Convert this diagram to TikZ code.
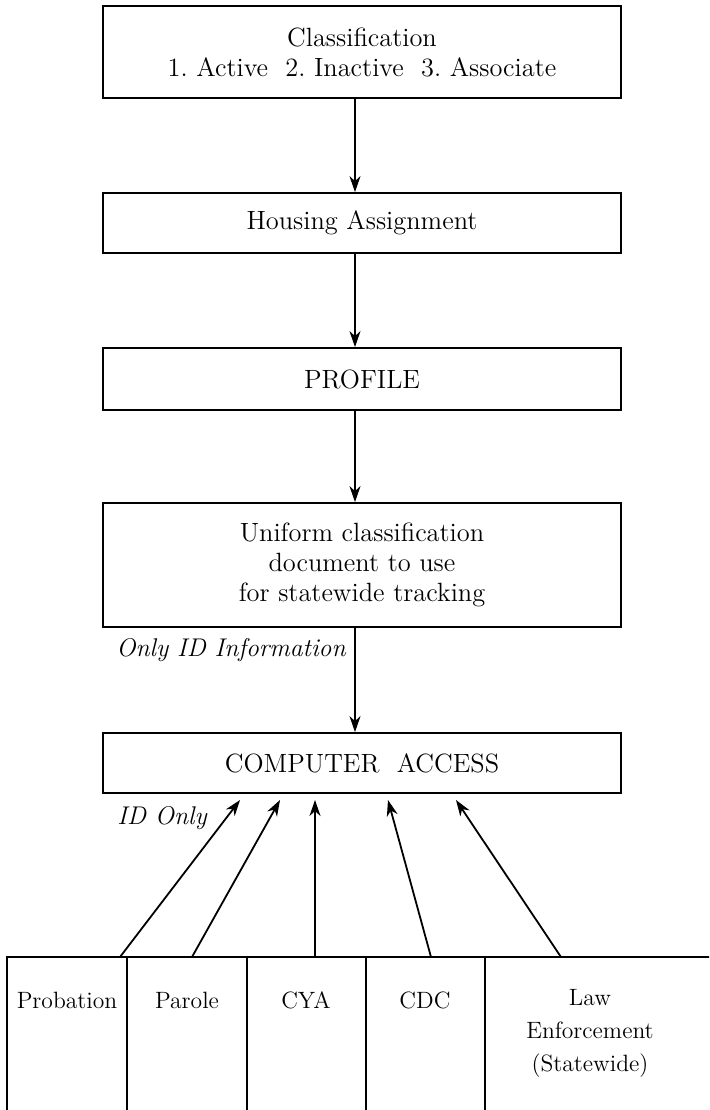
\documentclass[tikz,border=0pt]{standalone}
\usetikzlibrary{arrows.meta,calc}
\begin{document}
\begin{tikzpicture}[x=0.5pt, y=-0.5pt,
box/.style={rectangle,draw,line width=0.9pt,minimum width=259pt,align=center,font=\fontsize{13.2}{15}\selectfont},
flow/.style={line width=0.9pt,-{Stealth[length=8pt,width=5.5pt,inset=2.5pt]}},
tag/.style={font=\fontsize{12.8}{15}\selectfont\itshape,inner sep=0pt},
cell/.style={font=\fontsize{11.8}{16.5}\selectfont,align=center},
]
\useasboundingbox (0,0) rectangle (709,1110);
\clip (0,0) rectangle (709,1110);

% main chain
\node[box, minimum height=46pt] (class) at (362,52) {Classification\\1.~Active~~2.~Inactive~~3.~Associate};
\node[box, minimum height=30pt] (housing) at (362,223) {Housing Assignment};
\node[box, minimum height=31pt] (profile) at (362,379) {PROFILE};
\node[box, minimum height=62pt] (uniform) at (362,565) {Uniform classification\\document to use\\for statewide tracking};
\node[box, minimum height=30pt] (comp) at (362,763) {COMPUTER~~ACCESS};

\draw[flow] ([xshift=-3.5pt]class.south) -- ([xshift=-3.5pt]housing.north);
\draw[flow] ([xshift=-3.5pt]housing.south) -- ([xshift=-3.5pt]profile.north);
\draw[flow] ([xshift=-3.5pt]profile.south) -- ([xshift=-3.5pt]uniform.north);
\draw[flow] ([xshift=-3.5pt]uniform.south) -- ([xshift=-3.5pt]comp.north);

\node[tag, anchor=east] (onlyid) at (346,650) {Only ID Information};
\node[tag, anchor=west] (idonly) at (117,818) {ID Only};

% agencies table
\draw[line width=0.6pt] (7,1130) |- (730,957);
\foreach \x in {127,247,366,485}
  \draw[line width=0.6pt] (\x,957) -- (\x,1130);

\node[cell] (prob) at (67,1000) {Probation};
\node[cell] (parole) at (187,1000) {Parole};
\node[cell] (cya) at (306,1000) {CYA};
\node[cell] (cdc) at (425,1000) {CDC};
\node[cell] (law) at (590,1033) {Law\\Enforcement\\(Statewide)};

% links up to computer access
\coordinate (probtop) at (120,957);
\coordinate (paroletop) at (192,957);
\coordinate (cyatop) at (315,957);
\coordinate (cdctop) at (431,957);
\coordinate (lawtop) at (561,957);
\coordinate (tip1) at (240,800);
\coordinate (tip2) at (280,800);
\coordinate (tip3) at (315,800);
\coordinate (tip4) at (388,800);
\coordinate (tip5) at (456,800);
\foreach \from/\to in {probtop/tip1,paroletop/tip2,cyatop/tip3,cdctop/tip4,lawtop/tip5}
  \draw[flow] (\from) -- (\to);
\end{tikzpicture}
\end{document}
